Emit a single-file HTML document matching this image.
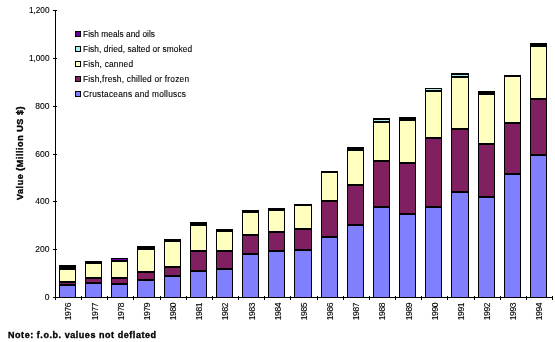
<!DOCTYPE html>
<html><head><meta charset="utf-8"><style>
html,body{margin:0;padding:0;background:#fff;}
body{width:555px;height:342px;overflow:hidden;}
svg{display:block;will-change:transform;}
text{font-family:"Liberation Sans", sans-serif;fill:#000;stroke:#000;stroke-width:0.12px;}
.lg{font-size:8.3px;}
.yt{font-size:8.5px;text-anchor:end;}
.xt{font-size:8.5px;text-anchor:end;}
.yl{font-size:9px;font-weight:bold;stroke-width:0.35px;text-anchor:middle;letter-spacing:0.55px;}
.nt{font-size:9px;font-weight:bold;stroke-width:0.35px;letter-spacing:0.55px;}
</style></head><body>
<svg width="555" height="342" viewBox="0 0 555 342">
<g shape-rendering="crispEdges">
<rect x="55" y="10" width="1" height="288" fill="#000"/>
<rect x="55" y="297" width="498" height="1" fill="#000"/>
<rect x="53" y="297" width="4" height="1" fill="#000"/>
<rect x="53" y="249" width="4" height="1" fill="#000"/>
<rect x="53" y="201" width="4" height="1" fill="#000"/>
<rect x="53" y="154" width="4" height="1" fill="#000"/>
<rect x="53" y="106" width="4" height="1" fill="#000"/>
<rect x="53" y="58" width="4" height="1" fill="#000"/>
<rect x="53" y="10" width="4" height="1" fill="#000"/>
<rect x="55" y="296" width="1" height="4" fill="#000"/>
<rect x="81" y="296" width="1" height="4" fill="#000"/>
<rect x="107" y="296" width="1" height="4" fill="#000"/>
<rect x="133" y="296" width="1" height="4" fill="#000"/>
<rect x="160" y="296" width="1" height="4" fill="#000"/>
<rect x="186" y="296" width="1" height="4" fill="#000"/>
<rect x="212" y="296" width="1" height="4" fill="#000"/>
<rect x="238" y="296" width="1" height="4" fill="#000"/>
<rect x="264" y="296" width="1" height="4" fill="#000"/>
<rect x="290" y="296" width="1" height="4" fill="#000"/>
<rect x="317" y="296" width="1" height="4" fill="#000"/>
<rect x="343" y="296" width="1" height="4" fill="#000"/>
<rect x="369" y="296" width="1" height="4" fill="#000"/>
<rect x="395" y="296" width="1" height="4" fill="#000"/>
<rect x="421" y="296" width="1" height="4" fill="#000"/>
<rect x="447" y="296" width="1" height="4" fill="#000"/>
<rect x="474" y="296" width="1" height="4" fill="#000"/>
<rect x="500" y="296" width="1" height="4" fill="#000"/>
<rect x="526" y="296" width="1" height="4" fill="#000"/>
<rect x="552" y="296" width="1" height="4" fill="#000"/>
<rect x="59" y="265" width="17" height="33" fill="#000"/>
<rect x="60" y="270" width="15" height="11" fill="#ffffc0"/>
<rect x="60" y="283" width="15" height="1" fill="#802060"/>
<rect x="60" y="286" width="15" height="11" fill="#8080ff"/>
<rect x="85" y="261" width="17" height="37" fill="#000"/>
<rect x="86" y="264" width="15" height="13" fill="#ffffc0"/>
<rect x="86" y="279" width="15" height="3" fill="#802060"/>
<rect x="86" y="284" width="15" height="13" fill="#8080ff"/>
<rect x="111" y="258" width="17" height="40" fill="#000"/>
<rect x="112" y="262" width="15" height="15" fill="#ffffc0"/>
<rect x="112" y="279" width="15" height="4" fill="#802060"/>
<rect x="112" y="285" width="15" height="12" fill="#8080ff"/>
<rect x="137" y="246" width="18" height="52" fill="#000"/>
<rect x="138" y="250" width="16" height="21" fill="#ffffc0"/>
<rect x="138" y="273" width="16" height="6" fill="#802060"/>
<rect x="138" y="281" width="16" height="16" fill="#8080ff"/>
<rect x="164" y="239" width="17" height="59" fill="#000"/>
<rect x="165" y="242" width="15" height="24" fill="#ffffc0"/>
<rect x="165" y="268" width="15" height="7" fill="#802060"/>
<rect x="165" y="277" width="15" height="20" fill="#8080ff"/>
<rect x="190" y="222" width="17" height="76" fill="#000"/>
<rect x="191" y="226" width="15" height="24" fill="#ffffc0"/>
<rect x="191" y="252" width="15" height="18" fill="#802060"/>
<rect x="191" y="272" width="15" height="25" fill="#8080ff"/>
<rect x="216" y="229" width="17" height="69" fill="#000"/>
<rect x="217" y="232" width="15" height="18" fill="#ffffc0"/>
<rect x="217" y="252" width="15" height="16" fill="#802060"/>
<rect x="217" y="270" width="15" height="27" fill="#8080ff"/>
<rect x="242" y="210" width="17" height="88" fill="#000"/>
<rect x="243" y="213" width="15" height="21" fill="#ffffc0"/>
<rect x="243" y="236" width="15" height="17" fill="#802060"/>
<rect x="243" y="255" width="15" height="42" fill="#8080ff"/>
<rect x="268" y="208" width="17" height="90" fill="#000"/>
<rect x="269" y="211" width="15" height="20" fill="#ffffc0"/>
<rect x="269" y="233" width="15" height="17" fill="#802060"/>
<rect x="269" y="252" width="15" height="45" fill="#8080ff"/>
<rect x="294" y="204" width="18" height="94" fill="#000"/>
<rect x="295" y="206" width="16" height="22" fill="#ffffc0"/>
<rect x="295" y="230" width="16" height="19" fill="#802060"/>
<rect x="295" y="251" width="16" height="46" fill="#8080ff"/>
<rect x="321" y="171" width="17" height="127" fill="#000"/>
<rect x="322" y="173" width="15" height="27" fill="#ffffc0"/>
<rect x="322" y="202" width="15" height="34" fill="#802060"/>
<rect x="322" y="238" width="15" height="59" fill="#8080ff"/>
<rect x="347" y="147" width="17" height="151" fill="#000"/>
<rect x="348" y="151" width="15" height="33" fill="#ffffc0"/>
<rect x="348" y="186" width="15" height="38" fill="#802060"/>
<rect x="348" y="226" width="15" height="71" fill="#8080ff"/>
<rect x="373" y="118" width="17" height="180" fill="#000"/>
<rect x="374" y="123" width="15" height="37" fill="#ffffc0"/>
<rect x="374" y="162" width="15" height="44" fill="#802060"/>
<rect x="374" y="208" width="15" height="89" fill="#8080ff"/>
<rect x="399" y="117" width="17" height="181" fill="#000"/>
<rect x="400" y="121" width="15" height="41" fill="#ffffc0"/>
<rect x="400" y="164" width="15" height="49" fill="#802060"/>
<rect x="400" y="215" width="15" height="82" fill="#8080ff"/>
<rect x="425" y="88" width="17" height="210" fill="#000"/>
<rect x="426" y="92" width="15" height="45" fill="#ffffc0"/>
<rect x="426" y="139" width="15" height="67" fill="#802060"/>
<rect x="426" y="208" width="15" height="89" fill="#8080ff"/>
<rect x="451" y="73" width="18" height="225" fill="#000"/>
<rect x="452" y="78" width="16" height="50" fill="#ffffc0"/>
<rect x="452" y="130" width="16" height="61" fill="#802060"/>
<rect x="452" y="193" width="16" height="104" fill="#8080ff"/>
<rect x="478" y="91" width="17" height="207" fill="#000"/>
<rect x="479" y="95" width="15" height="48" fill="#ffffc0"/>
<rect x="479" y="145" width="15" height="51" fill="#802060"/>
<rect x="479" y="198" width="15" height="99" fill="#8080ff"/>
<rect x="504" y="75" width="17" height="223" fill="#000"/>
<rect x="505" y="77" width="15" height="45" fill="#ffffc0"/>
<rect x="505" y="124" width="15" height="49" fill="#802060"/>
<rect x="505" y="175" width="15" height="122" fill="#8080ff"/>
<rect x="530" y="43" width="17" height="255" fill="#000"/>
<rect x="531" y="47" width="15" height="51" fill="#ffffc0"/>
<rect x="531" y="100" width="15" height="54" fill="#802060"/>
<rect x="531" y="156" width="15" height="141" fill="#8080ff"/>
<rect x="112" y="259" width="15" height="1" fill="#660099"/>
<rect x="374" y="120" width="15" height="1" fill="#a8f0f0"/>
<rect x="426" y="89" width="15" height="1" fill="#a8f0f0"/>
<rect x="452" y="75" width="16" height="1" fill="#a8f0f0"/>
<rect x="75" y="31" width="6" height="6" fill="#000"/>
<rect x="76" y="32" width="4" height="4" fill="#660099"/>
<rect x="75" y="46" width="6" height="6" fill="#000"/>
<rect x="76" y="47" width="4" height="4" fill="#a8f0f0"/>
<rect x="75" y="61" width="6" height="6" fill="#000"/>
<rect x="76" y="62" width="4" height="4" fill="#ffffc0"/>
<rect x="75" y="76" width="6" height="6" fill="#000"/>
<rect x="76" y="77" width="4" height="4" fill="#802060"/>
<rect x="75" y="91" width="6" height="6" fill="#000"/>
<rect x="76" y="92" width="4" height="4" fill="#8080ff"/>
</g>
<text x="83" y="37" class="lg" textLength="72" lengthAdjust="spacing">Fish meals and oils</text>
<text x="83" y="52" class="lg" textLength="109" lengthAdjust="spacing">Fish, dried, salted or smoked</text>
<text x="83" y="67" class="lg" textLength="50" lengthAdjust="spacing">Fish, canned</text>
<text x="83" y="82" class="lg" textLength="106" lengthAdjust="spacing">Fish,fresh, chilled or frozen</text>
<text x="83" y="97" class="lg" textLength="103" lengthAdjust="spacing">Crustaceans and molluscs</text>
<text x="49.5" y="300" class="yt">0</text>
<text x="49.5" y="252" class="yt">200</text>
<text x="49.5" y="204" class="yt">400</text>
<text x="49.5" y="157" class="yt">600</text>
<text x="49.5" y="109" class="yt">800</text>
<text x="49.5" y="61" class="yt" textLength="20.6" lengthAdjust="spacingAndGlyphs">1,000</text>
<text x="49.5" y="13" class="yt" textLength="20.6" lengthAdjust="spacingAndGlyphs">1,200</text>
<text transform="translate(71.48,302.6) rotate(-90)" class="xt" textLength="17.6" lengthAdjust="spacing">1976</text>
<text transform="translate(97.64,302.6) rotate(-90)" class="xt" textLength="17.6" lengthAdjust="spacing">1977</text>
<text transform="translate(123.79,302.6) rotate(-90)" class="xt" textLength="17.6" lengthAdjust="spacing">1978</text>
<text transform="translate(149.95,302.6) rotate(-90)" class="xt" textLength="17.6" lengthAdjust="spacing">1979</text>
<text transform="translate(176.11,302.6) rotate(-90)" class="xt" textLength="17.6" lengthAdjust="spacing">1980</text>
<text transform="translate(202.27,302.6) rotate(-90)" class="xt" textLength="17.6" lengthAdjust="spacing">1981</text>
<text transform="translate(228.43,302.6) rotate(-90)" class="xt" textLength="17.6" lengthAdjust="spacing">1982</text>
<text transform="translate(254.58,302.6) rotate(-90)" class="xt" textLength="17.6" lengthAdjust="spacing">1983</text>
<text transform="translate(280.74,302.6) rotate(-90)" class="xt" textLength="17.6" lengthAdjust="spacing">1984</text>
<text transform="translate(306.90,302.6) rotate(-90)" class="xt" textLength="17.6" lengthAdjust="spacing">1985</text>
<text transform="translate(333.06,302.6) rotate(-90)" class="xt" textLength="17.6" lengthAdjust="spacing">1986</text>
<text transform="translate(359.22,302.6) rotate(-90)" class="xt" textLength="17.6" lengthAdjust="spacing">1987</text>
<text transform="translate(385.37,302.6) rotate(-90)" class="xt" textLength="17.6" lengthAdjust="spacing">1988</text>
<text transform="translate(411.53,302.6) rotate(-90)" class="xt" textLength="17.6" lengthAdjust="spacing">1989</text>
<text transform="translate(437.69,302.6) rotate(-90)" class="xt" textLength="17.6" lengthAdjust="spacing">1990</text>
<text transform="translate(463.85,302.6) rotate(-90)" class="xt" textLength="17.6" lengthAdjust="spacing">1991</text>
<text transform="translate(490.01,302.6) rotate(-90)" class="xt" textLength="17.6" lengthAdjust="spacing">1992</text>
<text transform="translate(516.16,302.6) rotate(-90)" class="xt" textLength="17.6" lengthAdjust="spacing">1993</text>
<text transform="translate(542.32,302.6) rotate(-90)" class="xt" textLength="17.6" lengthAdjust="spacing">1994</text>
<text transform="translate(23,153) rotate(-90)" class="yl">Value (Million US $)</text>
<text x="8" y="338" class="nt">Note: f.o.b. values not deflated</text>
</svg>
</body></html>
